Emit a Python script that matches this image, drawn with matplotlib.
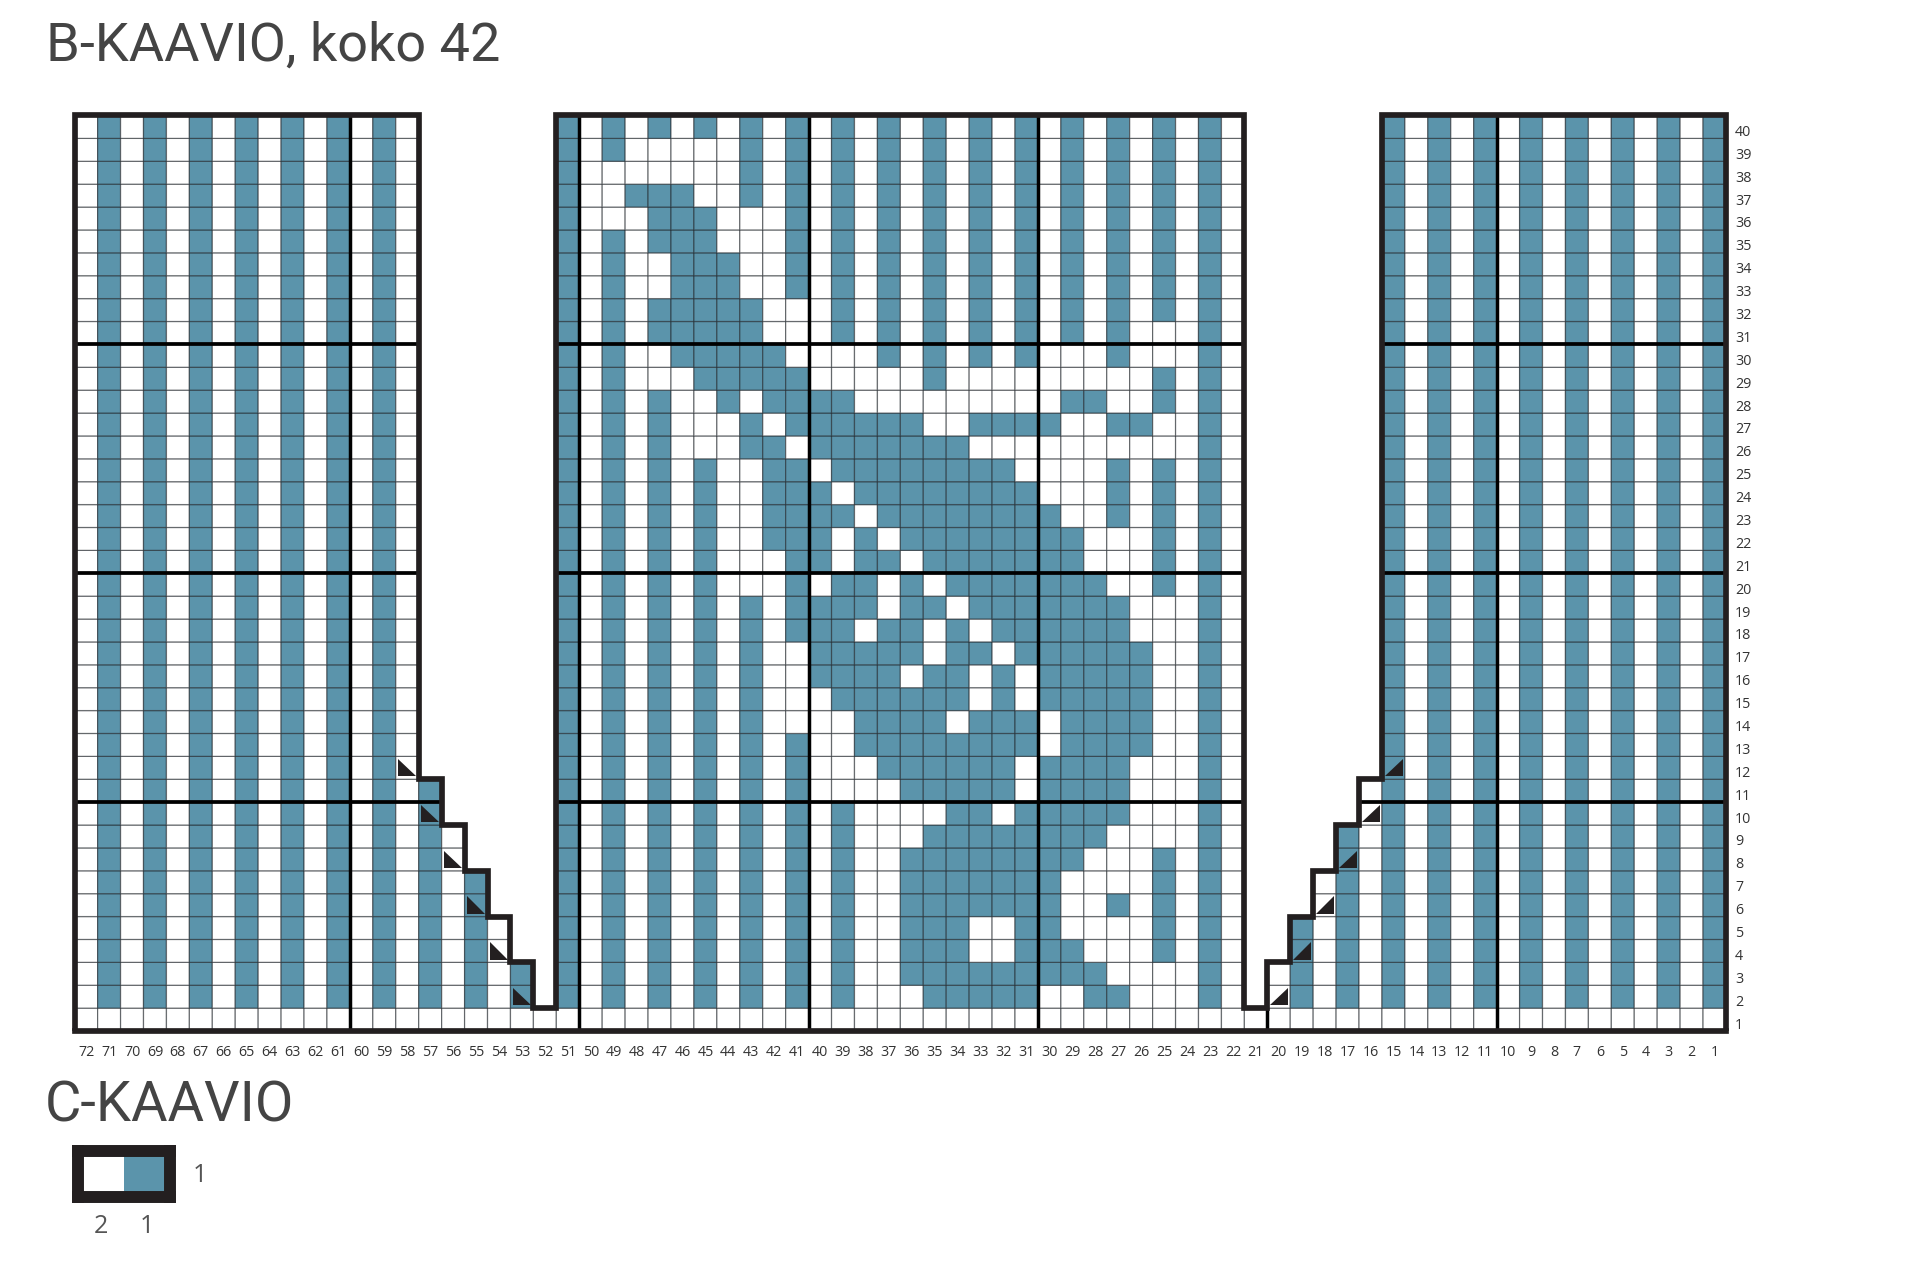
import numpy as np
import matplotlib
matplotlib.use("Agg")
import matplotlib.pyplot as plt
from matplotlib.colors import ListedColormap
from matplotlib.patches import Polygon
from matplotlib.transforms import ScaledTranslation

# chart cells: # = blue, . = white, space = outside the piece. top row (40) first
row_labels = list(range(40, 0, -1))
col_labels = list(range(72, 0, -1))

# columns 72..52
left_part = [
    ".#.#.#.#.#.#.#.      ",  # 40
    ".#.#.#.#.#.#.#.      ",
    ".#.#.#.#.#.#.#.      ",
    ".#.#.#.#.#.#.#.      ",
    ".#.#.#.#.#.#.#.      ",
    ".#.#.#.#.#.#.#.      ",
    ".#.#.#.#.#.#.#.      ",
    ".#.#.#.#.#.#.#.      ",
    ".#.#.#.#.#.#.#.      ",
    ".#.#.#.#.#.#.#.      ",  # 31
    ".#.#.#.#.#.#.#.      ",  # 30
    ".#.#.#.#.#.#.#.      ",
    ".#.#.#.#.#.#.#.      ",
    ".#.#.#.#.#.#.#.      ",
    ".#.#.#.#.#.#.#.      ",
    ".#.#.#.#.#.#.#.      ",
    ".#.#.#.#.#.#.#.      ",
    ".#.#.#.#.#.#.#.      ",
    ".#.#.#.#.#.#.#.      ",
    ".#.#.#.#.#.#.#.      ",  # 21
    ".#.#.#.#.#.#.#.      ",  # 20
    ".#.#.#.#.#.#.#.      ",
    ".#.#.#.#.#.#.#.      ",
    ".#.#.#.#.#.#.#.      ",
    ".#.#.#.#.#.#.#.      ",
    ".#.#.#.#.#.#.#.      ",
    ".#.#.#.#.#.#.#.      ",
    ".#.#.#.#.#.#.#.      ",
    ".#.#.#.#.#.#.#.      ",  # 12
    ".#.#.#.#.#.#.#.#     ",  # 11
    ".#.#.#.#.#.#.#.#     ",
    ".#.#.#.#.#.#.#.#.    ",
    ".#.#.#.#.#.#.#.#.    ",
    ".#.#.#.#.#.#.#.#.#   ",
    ".#.#.#.#.#.#.#.#.#   ",
    ".#.#.#.#.#.#.#.#.#.  ",
    ".#.#.#.#.#.#.#.#.#.  ",
    ".#.#.#.#.#.#.#.#.#.# ",
    ".#.#.#.#.#.#.#.#.#.# ",
    ".....................",  # 1
]

# columns 51..22
centre_part = [
    "#.#.#.#.#.#.#.#.#.#.#.#.#.#.#.",  # 40
    "#.#.....#.#.#.#.#.#.#.#.#.#.#.",
    "#.......#.#.#.#.#.#.#.#.#.#.#.",
    "#..###..#.#.#.#.#.#.#.#.#.#.#.",
    "#...###...#.#.#.#.#.#.#.#.#.#.",
    "#.#.###...#.#.#.#.#.#.#.#.#.#.",
    "#.#..###..#.#.#.#.#.#.#.#.#.#.",
    "#.#..###..#.#.#.#.#.#.#.#.#.#.",
    "#.#.#####...#.#.#.#.#.#.#.#.#.",
    "#.#.#####...#.#.#.#.#.#.#...#.",  # 31
    "#.#..#####....#.#.#.#...#...#.",  # 30
    "#.#...#####.....#.........#.#.",
    "#.#.#..#.####.........##..#.#.",
    "#.#.#...#.######..####..##..#.",
    "#.#.#...##.#######..........#.",
    "#.#.#.#..##.########....#.#.#.",
    "#.#.#.#..###.########...#.#.#.",
    "#.#.#.#..####.########..#.#.#.",
    "#.#.#.#..###.#.########...#.#.",
    "#.#.#.#...##.##.#######...#.#.",  # 21
    "#.#.#.#...#.##.#.#######..#.#.",  # 20
    "#.#.#.#.#.####.##.#######...#.",
    "#.#.#.#.#.###.##.#.######...#.",
    "#.#.#.#.#..#####.##.######..#.",
    "#.#.#.#.#..####.##.#.#####..#.",
    "#.#.#.#.#...######.#.#####..#.",
    "#.#.#.#.#....####.###.####..#.",
    "#.#.#.#.#.#..########.####..#.",
    "#.#.#.#.#.#...######.####...#.",
    "#.#.#.#.#.#....#####.####...#.",  # 11
    "#.#.#.#.#.#.#....##.#####...#.",  # 10
    "#.#.#.#.#.#.#...########....#.",
    "#.#.#.#.#.#.#..########...#.#.",
    "#.#.#.#.#.#.#..#######....#.#.",
    "#.#.#.#.#.#.#..#######..#.#.#.",
    "#.#.#.#.#.#.#..###..##....#.#.",
    "#.#.#.#.#.#.#..###..###...#.#.",
    "#.#.#.#.#.#.#..#########....#.",
    "#.#.#.#.#.#.#...#####..##...#.",
    "..............................",  # 1
]

# columns 21..1
right_part = [
    "      #.#.#.#.#.#.#.#",  # 40
    "      #.#.#.#.#.#.#.#",
    "      #.#.#.#.#.#.#.#",
    "      #.#.#.#.#.#.#.#",
    "      #.#.#.#.#.#.#.#",
    "      #.#.#.#.#.#.#.#",
    "      #.#.#.#.#.#.#.#",
    "      #.#.#.#.#.#.#.#",
    "      #.#.#.#.#.#.#.#",
    "      #.#.#.#.#.#.#.#",  # 31
    "      #.#.#.#.#.#.#.#",  # 30
    "      #.#.#.#.#.#.#.#",
    "      #.#.#.#.#.#.#.#",
    "      #.#.#.#.#.#.#.#",
    "      #.#.#.#.#.#.#.#",
    "      #.#.#.#.#.#.#.#",
    "      #.#.#.#.#.#.#.#",
    "      #.#.#.#.#.#.#.#",
    "      #.#.#.#.#.#.#.#",
    "      #.#.#.#.#.#.#.#",  # 21
    "      #.#.#.#.#.#.#.#",  # 20
    "      #.#.#.#.#.#.#.#",
    "      #.#.#.#.#.#.#.#",
    "      #.#.#.#.#.#.#.#",
    "      #.#.#.#.#.#.#.#",
    "      #.#.#.#.#.#.#.#",
    "      #.#.#.#.#.#.#.#",
    "      #.#.#.#.#.#.#.#",
    "      #.#.#.#.#.#.#.#",  # 12
    "     .#.#.#.#.#.#.#.#",  # 11
    "     .#.#.#.#.#.#.#.#",
    "    #.#.#.#.#.#.#.#.#",
    "    #.#.#.#.#.#.#.#.#",
    "   .#.#.#.#.#.#.#.#.#",
    "   .#.#.#.#.#.#.#.#.#",
    "  #.#.#.#.#.#.#.#.#.#",
    "  #.#.#.#.#.#.#.#.#.#",
    " .#.#.#.#.#.#.#.#.#.#",
    " .#.#.#.#.#.#.#.#.#.#",
    ".....................",  # 1
]

# decrease marks as (column, row)
left_marks = [(58, 12), (57, 10), (56, 8), (55, 6), (54, 4), (53, 2)]
right_marks = [(20, 2), (19, 4), (18, 6), (17, 8), (16, 10), (15, 12)]

legend_values = [0, 1]
legend_col_labels = ["2", "1"]
legend_row_labels = ["1"]

BLUE = "#5b94ab"
DARK = "#231f20"
TEXT = "#444444"
W, H = 1920, 1280

plt.rcParams["font.family"] = ["Open Sans", "DejaVu Sans"]

chart_rows = [a + b + c for a, b, c in zip(left_part, centre_part, right_part)]
codes = {"#": 1, ".": 0, " ": -1}
cells = np.array([[codes[ch] for ch in r] for r in chart_rows[::-1]])  # row 1 at bottom
grid = np.ma.masked_equal(cells, -1)
heights = (cells >= 0).sum(axis=0)
n_rows, n_cols = cells.shape

fig = plt.figure(figsize=(W / 100, H / 100), dpi=100)
fig.patch.set_facecolor("white")

ax = fig.add_axes([74.7 / W, 1 - 1031 / H, (1726 - 74.7) / W, (1031 - 115.5) / H])
ax.pcolor(np.arange(n_cols + 1), np.arange(n_rows + 1), grid,
          cmap=ListedColormap(["white", BLUE]), vmin=0, vmax=1,
          edgecolors=(0.12, 0.14, 0.16, 0.55), linewidths=0.9)

# heavy lines every 10 stitches, only where the piece exists
for x in range(12, n_cols, 10):
    ax.vlines(x, 0, min(heights[x - 1], heights[x]), color="black", lw=2.5, zorder=3)
for y in (10, 20, 30):
    start = None
    for x in range(n_cols + 1):
        inside = x < n_cols and heights[x] > y
        if inside and start is None:
            start = x
        if not inside and start is not None:
            ax.hlines(y, start, x, color="black", lw=2.7, zorder=3)
            start = None

# outline with the steps of the neck
ax.stairs(heights, np.arange(n_cols + 1), baseline=0, fill=False, color=DARK, lw=4.1,
          clip_on=False, zorder=5)

for col, row in left_marks:
    x, y = 72 - col, row - 1
    ax.add_patch(Polygon([(x + 0.1, y + 0.88), (x + 0.1, y + 0.12), (x + 0.88, y + 0.12)],
                         color=DARK, lw=0, zorder=4))
for col, row in right_marks:
    x, y = 72 - col, row - 1
    ax.add_patch(Polygon([(x + 0.12, y + 0.12), (x + 0.9, y + 0.12), (x + 0.9, y + 0.88)],
                         color=DARK, lw=0, zorder=4))

ax.set_xlim(0, n_cols)
ax.set_ylim(0, n_rows)
for side in ("top", "left", "right"):
    ax.spines[side].set_visible(False)
ax.spines["bottom"].set_linewidth(4.1)
ax.spines["bottom"].set_color(DARK)
ax.spines["bottom"].set_zorder(5)

ax.set_xticks(np.arange(n_cols) + 0.5, col_labels)
ax.set_yticks(np.arange(n_rows) + 0.5, row_labels[::-1])
ax.yaxis.tick_right()
ax.tick_params(axis="x", length=0, pad=10, labelsize=10.3, labelcolor="#333333")
ax.tick_params(axis="y", length=0, pad=6.5, labelsize=10.3, labelcolor="#333333")
shift = ScaledTranslation(0, -3.5 / 100, fig.dpi_scale_trans)
for lab in ax.get_yticklabels():
    lab.set_transform(lab.get_transform() + shift)

fig.text(46 / W, 1 - 60.7 / H, "B-KAAVIO, koko 42", family="Roboto", fontsize=39,
         color=TEXT, va="baseline")
fig.text(45 / W, 1 - 1121.7 / H, "C-KAAVIO", family="Roboto", fontsize=40.3,
         color=TEXT, va="baseline")

# legend box
leg = fig.add_axes([77.5 / W, 1 - 1197 / H, (170 - 77.5) / W, (1197 - 1151) / H])
leg.pcolormesh(np.array([legend_values]), cmap=ListedColormap(["white", BLUE]), vmin=0, vmax=1)
for sp in leg.spines.values():
    sp.set_linewidth(8.6)
    sp.set_color(DARK)
leg.set_xticks([0.5, 1.5], legend_col_labels)
leg.set_yticks([0.5], legend_row_labels)
leg.yaxis.tick_right()
leg.tick_params(axis="x", length=0, pad=12, labelsize=18, labelcolor="#555555")
leg.tick_params(axis="y", length=0, pad=16, labelsize=18, labelcolor="#555555")
up = ScaledTranslation(0, 2 / 100, fig.dpi_scale_trans)
for lab in leg.get_yticklabels():
    lab.set_transform(lab.get_transform() + up)

fig.savefig("out.png", dpi=100)
